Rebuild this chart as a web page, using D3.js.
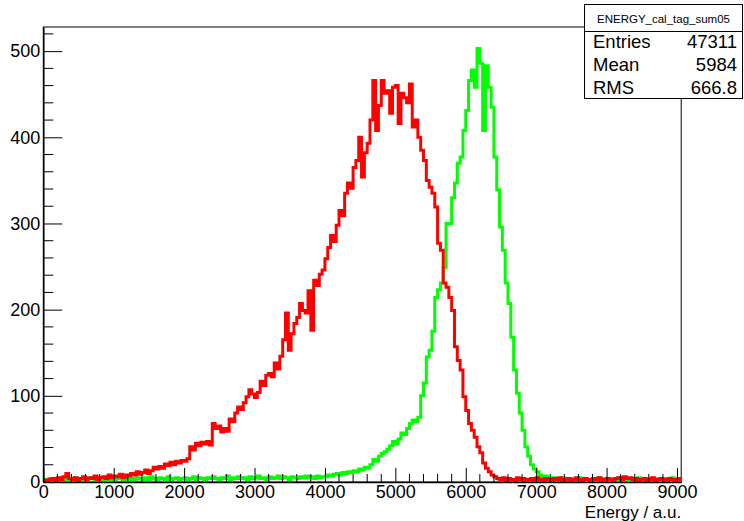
<!DOCTYPE html>
<html>
<head>
<meta charset="utf-8">
<script src="https://cdn.jsdelivr.net/npm/d3@7"></script>
<style>
  html, body { margin: 0; padding: 0; background: #fff; }
  svg { display: block; font-family: "Liberation Sans", Arial, Helvetica, sans-serif; }
</style>
</head>
<body>
<svg id="chart" width="744" height="521"></svg>
<script>
// Histogram binning: 40 a.u. per bin starting at 0
const binWidth = 40;
const xMax = 9060;
const yMax = 528;

const xTicks = [0, 1000, 2000, 3000, 4000, 5000, 6000, 7000, 8000, 9000];
const yTicks = [0, 100, 200, 300, 400, 500];

// Tagged calorimeter sum (green, with statistics)
const greenCounts = [
  3,2,4,1,3,2,5,3,2,4,
  3,5,2,4,3,2,4,5,3,2,
  4,3,5,2,4,3,6,4,3,5,
  2,4,3,5,4,2,5,3,6,4,
  3,5,4,2,6,3,4,5,3,4,
  5,3,4,6,3,5,4,3,5,4,
  6,4,3,5,4,7,3,5,4,6,
  4,5,3,6,4,5,7,4,5,3,
  6,4,5,7,4,6,5,3,6,5,
  4,6,5,7,5,6,4,7,5,6,
  6,8,7,9,10,8,11,10,12,11,
  13,12,15,14,17,16,20,26,24,30,
  33,35,38,42,47,44,50,57,55,62,
  68,72,70,75,100,115,145,153,175,214,
  223,231,249,300,300,330,347,370,377,408,
  431,466,478,458,503,486,408,483,458,435,
  377,339,296,269,231,207,168,130,103,80,
  60,41,30,20,15,12,8,
  6,7,5,4,5,3,4,5,3,4,
  3,4,2,5,3,4,3,2,4,3,
  5,3,4,2,3,4,3,5,2,4,
  3,2,4,3,5,2,3,4,2,3,
  4,3,2,4,3,2,5,3,4,3
];

// Uncalibrated sum (red, overlaid)
const redCounts = [
  2,1,3,4,2,5,3,6,10,4,
  3,5,2,4,6,3,5,4,7,3,
  5,6,4,8,5,7,6,9,5,8,
  7,10,8,12,9,11,14,10,13,17,
  15,18,16,21,19,23,20,24,22,25,
  24,27,41,37,45,42,46,44,47,43,
  68,62,65,58,62,59,73,70,80,87,
  84,92,99,107,102,98,104,117,112,124,
  126,122,138,131,146,165,196,153,172,184,
  191,207,199,196,222,176,234,228,241,246,
  259,272,286,279,298,315,309,335,347,341,
  365,373,400,354,382,393,420,466,408,437,
  466,451,454,428,458,460,416,451,446,440,
  462,412,420,400,385,373,350,342,335,319,
  277,269,231,226,214,199,157,141,130,99,
  83,68,60,52,41,34,22,16,12,8,6,
  4,3,5,2,4,3,2,5,3,4,
  2,3,4,2,5,3,2,4,3,2,
  4,3,5,2,3,4,2,3,5,3,
  2,4,3,2,4,3,5,2,3,4,
  3,2,4,5,3,6,4,5,3,4,
  2,3,4,2,3,5,2,3,4,3,
  2,4,3,2,3,4
];

const statsTitle = "ENERGY_cal_tag_sum05";
const statsRows = [["Entries", "47311"], ["Mean", "5984"], ["RMS", "666.8"]];
const xTitle = "Energy / a.u.";

const frame = { left: 43.3, right: 681.2, top: 27, bottom: 482 };
const svg = d3.select("#chart");

const x = d3.scaleLinear().domain([0, xMax]).range([frame.left, frame.right]);
const y = d3.scaleLinear().domain([0, yMax]).range([frame.bottom, frame.top]);

svg.append("defs").append("clipPath").attr("id", "plotClip")
  .append("rect")
  .attr("x", frame.left).attr("y", frame.top - 2)
  .attr("width", frame.right - frame.left).attr("height", frame.bottom - frame.top + 4);

// Frame
svg.append("rect")
  .attr("x", frame.left).attr("y", frame.top)
  .attr("width", frame.right - frame.left).attr("height", frame.bottom - frame.top)
  .attr("fill", "none").attr("stroke", "#000").attr("stroke-width", 1);

// Step outline for a histogram
function stepPoints(counts) {
  const pts = counts.map((c, i) => [i * binWidth, c]);
  pts.push([counts.length * binWidth, counts[counts.length - 1]]);
  return pts;
}
const stepLine = d3.line().curve(d3.curveStepAfter)
  .x(d => x(d[0])).y(d => y(d[1]));

const plot = svg.append("g").attr("clip-path", "url(#plotClip)");
plot.append("path").attr("d", stepLine(stepPoints(greenCounts)))
  .attr("fill", "none").attr("stroke", "#00ff00").attr("stroke-width", 3)
  .attr("stroke-linejoin", "miter");
plot.append("path").attr("d", stepLine(stepPoints(redCounts)))
  .attr("fill", "none").attr("stroke", "#ff0000").attr("stroke-width", 3)
  .attr("stroke-linejoin", "miter");

// X axis: major ticks every 1000, minor every 200, drawn inward
const xMinor = d3.range(0, xMax + 1, 200).filter(v => v % 1000 !== 0);
const xAxis = d3.axisBottom(x).tickValues(xTicks).tickSizeInner(-14).tickSizeOuter(0)
  .tickFormat(d3.format("d"));
const gx = svg.append("g").attr("transform", `translate(0,${frame.bottom})`).call(xAxis);
gx.select(".domain").attr("stroke", "#000").attr("stroke-width", 1.5);
gx.selectAll(".tick text").attr("y", 16).attr("dy", null)
  .attr("font-size", 18).attr("fill", "#000")
  .attr("font-family", "Liberation Sans, Arial, sans-serif");
gx.selectAll(".tick line").attr("stroke", "#000");
gx.selectAll(".minor").data(xMinor).enter().append("line").attr("class", "minor")
  .attr("x1", d => x(d)).attr("x2", d => x(d)).attr("y1", 0).attr("y2", -8)
  .attr("stroke", "#000");

// Y axis: major every 100, minor every 20, drawn inward
const yMinor = d3.range(0, yMax + 1, 20).filter(v => v % 100 !== 0);
const yAxis = d3.axisLeft(y).tickValues(yTicks).tickSizeInner(-19).tickSizeOuter(0)
  .tickFormat(d3.format("d"));
const gy = svg.append("g").attr("transform", `translate(${frame.left},0)`).call(yAxis);
gy.select(".domain").attr("stroke", "#000").attr("stroke-width", 1.5);
gy.selectAll(".tick text").attr("x", -3).attr("font-size", 18).attr("fill", "#000")
  .attr("font-family", "Liberation Sans, Arial, sans-serif");
gy.selectAll(".tick line").attr("stroke", "#000");
gy.selectAll(".minor").data(yMinor).enter().append("line").attr("class", "minor")
  .attr("x1", 0).attr("x2", 10).attr("y1", d => y(d)).attr("y2", d => y(d))
  .attr("stroke", "#000");

// Axis title
svg.append("text").attr("x", frame.right).attr("y", 518)
  .attr("text-anchor", "end").attr("font-size", 17).text(xTitle);

// Statistics box
const box = { x: 584.5, y: 4.5, w: 158, h: 94, sep: 31.5 };
const gs = svg.append("g");
gs.append("rect").attr("x", box.x).attr("y", box.y).attr("width", box.w).attr("height", box.h)
  .attr("fill", "#fff").attr("stroke", "#000").attr("stroke-width", 1);
gs.append("line").attr("x1", box.x).attr("x2", box.x + box.w)
  .attr("y1", box.sep).attr("y2", box.sep).attr("stroke", "#000");
gs.append("text").attr("x", box.x + box.w / 2).attr("y", 23)
  .attr("text-anchor", "middle").attr("font-size", 11.5).text(statsTitle);
statsRows.forEach((r, i) => {
  const by = 48.3 + i * 23;
  gs.append("text").attr("x", 593).attr("y", by).attr("font-size", 18.5).text(r[0]);
  gs.append("text").attr("x", 737).attr("y", by).attr("text-anchor", "end")
    .attr("font-size", 18.5).text(r[1]);
});
</script>
</body>
</html>
